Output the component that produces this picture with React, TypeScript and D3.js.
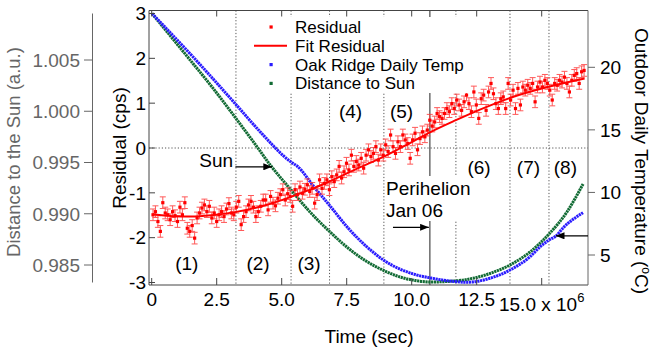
import React from 'react';
import * as d3 from 'd3';

// ---------- data (time in units of 1e6 s) ----------
const residualValues = [
  -1.49, -1.42, -1.64, -1.86, -1.22, -1.45, -1.49, -1.60, -1.42, -1.51,
  -1.64, -1.32, -1.49, -1.22, -1.79, -1.86, -1.73, -2.01, -1.56, -1.45,
  -1.34, -1.27, -1.42, -1.30, -1.56, -1.45, -1.64, -1.49, -1.42, -1.53,
  -1.36, -1.24, -1.45, -1.49, -1.32, -1.19, -1.71, -1.53, -1.42, -1.27,
  -1.19, -1.32, -1.53, -1.42, -1.30, -1.16,
  -1.16, -1.38, -1.08, -1.23, -1.29, -1.12, -1.04, -0.93, -1.16, -1.02,
  -1.08, -1.30, -0.93, -1.04, -0.87, -1.01, -0.92, -0.82, -0.97, -0.90,
  -1.23, -1.04, -0.71, -0.90, -0.79, -0.71, -0.93, -0.64, -0.75, -0.60,
  -0.41, -0.67, -0.53, -0.34, -0.49, -0.16, -0.41, -0.30, -0.38, -0.23,
  -0.45, -0.16, -0.04, -0.19,
  -0.12, 0.03, -0.27, -0.04, -0.16, 0.07, -0.08, 0.29, 0.03, -0.12,
  0.14, 0.03, 0.29, 0.18, 0.10, -0.23, 0.18, 0.33, -0.04, 0.21,
  0.36, 0.25, 0.40, 0.62, 0.49, 0.58, 0.77, 0.70, 0.66, 0.77,
  0.88, 0.81, 0.99, 0.88, 1.07, 0.96, 0.84, 1.03, 1.18, 0.99,
  0.81, 1.25, 0.96, 0.66, 1.10, 1.18, 0.84, 1.25, 1.44, 1.21,
  0.99, 0.88, 1.10, 1.14, 0.88, 1.44, 1.07, 1.29, 0.88, 1.33,
  0.96, 1.36, 1.29, 1.40, 1.33, 1.44, 1.03, 1.36, 1.47, 1.36,
  1.51, 1.44, 1.29, 1.07, 1.44, 1.40, 1.51, 1.47, 1.58, 1.44,
  1.25, 1.51, 1.62, 1.66, 1.44, 1.70, 1.73,
];
const residualTimeStart = 0.05;
const residualTimeEnd = 16.63;
const residualError = 0.13;

const fitTime = [0.05, 0.8, 1.5, 2.3, 3.2, 4.3, 5.36, 6.1, 6.86, 7.9, 8.97, 9.9, 10.74, 11.7, 12.6, 13.8, 15.3, 16.65];
const fitValues = [-1.48, -1.52, -1.53, -1.5, -1.43, -1.29, -1.09, -0.93, -0.74, -0.46, -0.18, 0.1, 0.36, 0.62, 0.85, 1.12, 1.37, 1.55];

const tempTime = [0.01, 1.63, 3.24, 4.17, 5.36, 5.59, 6.28, 6.86, 7.55, 8.24, 8.97, 10.13, 10.74, 11.36, 12.13, 13.01, 13.78, 14.55, 14.93, 15.28, 15.55, 15.82, 16.59];
const tempValues = [24.3, 20.74, 17.03, 14.85, 12.43, 12.11, 10.35, 8.92, 7.16, 5.72, 4.52, 3.44, 3.16, 2.95, 2.82, 3.14, 3.8, 4.86, 5.64, 6.2, 6.52, 7.16, 8.38];

const distTime = [0.01, 1.4, 2.32, 3.2, 3.86, 4.59, 5.36, 6.09, 6.86, 7.55, 8.24, 8.97, 9.55, 10.13, 10.74, 11.36, 12.13, 13.01, 13.78, 14.55, 15.28, 15.97, 16.59];
const distValues = [1.00954, 1.00524, 1.00237, 0.99944, 0.9972, 0.99466, 0.99232, 0.99017, 0.98822, 0.98666, 0.98539, 0.98441, 0.98383, 0.98349, 0.98334, 0.98339, 0.98359, 0.98417, 0.985, 0.98627, 0.98802, 0.99017, 0.9929];

const timeTicks = [0, 2.5, 5, 7.5, 10, 12.5];
const timeTickLabels = ['0', '2.5', '5.0', '7.5', '10.0', '12.5'];
const residualTicks = [-3, -2, -1, 0, 1, 2, 3];
const tempTicks = [5, 10, 15, 20];
const distTicks = [0.985, 0.99, 0.995, 1.0, 1.005];

const dividerTimes = [3.24, 5.36, 6.84, 8.93, 11.7, 13.78, 15.28];
const perihelionTime = 10.7;
const regionLabels = ['(1)', '(2)', '(3)', '(4)', '(5)', '(6)', '(7)', '(8)'];
const regionTimes = [1.35, 4.09, 6.05, 7.65, 9.61, 12.59, 14.49, 15.91];
const regionLevels = [-2.72, -2.72, -2.72, 0.67, 0.67, -0.58, -0.58, -0.58];

const legendLabels = ['Residual', 'Fit Residual', 'Oak Ridge Daily Temp', 'Distance to Sun'];

const RED = '#ff0000';
const BLUE = '#2a1cff';
const GREEN = '#126b34';
const FONT = '"Liberation Sans", Arial, Helvetica, sans-serif';

export default function App() {
  const W = 654, H = 350;
  const left = 149, right = 588, top = 10.5, bottom = 285;
  const x = d3.scaleLinear().domain([0, 15]).range([151.7, 541.7]);
  const yR = d3.scaleLinear().domain([-3, 3]).range([282.5, 13.5]);
  const yT = d3.scaleLinear().domain([5, 20]).range([255, 67.3]);
  const yD = d3.scaleLinear().domain([0.985, 1.005]).range([265, 60]);

  const n = residualValues.length;
  const tScale = d3.scaleLinear().domain([0, n - 1]).range([residualTimeStart, residualTimeEnd]);
  const resPts = residualValues.map((v, i) => ({ t: tScale(i), v }));

  const fitLine = d3.line<number>().x((_, i) => x(fitTime[i])).y((d) => yR(d)).curve(d3.curveMonotoneX)(fitValues) || '';
  const tempLine = d3.line<number>().x((_, i) => x(tempTime[i])).y((d) => yT(d)).curve(d3.curveMonotoneX)(tempValues) || '';
  const distLine = d3.line<number>().x((_, i) => x(distTime[i])).y((d) => yD(d)).curve(d3.curveMonotoneX)(distValues) || '';

  const fs = 19;
  const axisColor = '#444';

  return (
    <svg width={W} height={H} style={{ position: 'absolute', left: 0, top: 0, background: '#fff' }} fontFamily={FONT}>
      <defs>
        <marker id="ah" viewBox="0 0 10 8" refX="10" refY="4" markerWidth="10" markerHeight="7" markerUnits="userSpaceOnUse" orient="auto">
          <path d="M0,0 L10,4 L0,8 Z" fill="#000" />
        </marker>
        <clipPath id="plot"><rect x={left} y={top} width={right - left} height={bottom - top} /></clipPath>
      </defs>

      {/* dotted dividers */}
      {dividerTimes.map((t, i) => (
        <line key={'dv' + i} x1={x(t)} x2={x(t)} y1={top} y2={bottom} stroke="#555" strokeWidth={1} strokeDasharray="1.2,2" />
      ))}
      <line x1={left} x2={right} y1={yR(0)} y2={yR(0)} stroke="#555" strokeWidth={1} strokeDasharray="1.2,2" />
      <line x1={x(perihelionTime)} x2={x(perihelionTime)} y1={top} y2={bottom} stroke="#222" strokeWidth={1} />

      {/* curves */}
      <g clipPath="url(#plot)">
        <path d={distLine} fill="none" stroke={GREEN} strokeWidth={3} strokeDasharray="2.2,0.6" />
        <path d={tempLine} fill="none" stroke={BLUE} strokeWidth={3} strokeDasharray="2.2,0.6" />
      </g>

      {/* residual error bars + markers */}
      <g stroke="#ff3c3c" strokeWidth={1} opacity={0.85}>
        {resPts.map((p, i) => {
          const cx = x(p.t), y1 = yR(p.v + residualError), y2 = yR(p.v - residualError);
          return (
            <g key={'eb' + i}>
              <line x1={cx} x2={cx} y1={y1} y2={y2} />
              <line x1={cx - 3} x2={cx + 3} y1={y1} y2={y1} />
              <line x1={cx - 3} x2={cx + 3} y1={y2} y2={y2} />
            </g>
          );
        })}
      </g>
      <path d={fitLine} fill="none" stroke={RED} strokeWidth={2} />
      {resPts.map((p, i) => (
        <rect key={'rp' + i} x={x(p.t) - 1.6} y={yR(p.v) - 1.6} width={3.2} height={3.2} fill={RED} />
      ))}

      {/* frame */}
      <line x1={left} x2={right} y1={top} y2={top} stroke={axisColor} />
      <line x1={left} x2={right} y1={bottom} y2={bottom} stroke={axisColor} />
      <line x1={left} x2={left} y1={top} y2={bottom} stroke={axisColor} />
      <line x1={right} x2={right} y1={top} y2={bottom} stroke="#666" />

      {/* bottom ticks + top mirror */}
      {[...timeTicks, 15].map((t, i) => (
        <g key={'xt' + i}>
          <line x1={x(t)} x2={x(t)} y1={bottom} y2={bottom - 7} stroke={axisColor} />
          <line x1={x(t)} x2={x(t)} y1={top} y2={top + 6} stroke={axisColor} />
        </g>
      ))}
      {timeTicks.map((t, i) => (
        <text key={'xl' + i} x={x(t)} y={306} fontSize={fs} textAnchor="middle" fill="#000">{timeTickLabels[i]}</text>
      ))}
      <text x={x(15)} y={310.5} fontSize={fs} textAnchor="middle" fill="#000">
        15.0 x 10<tspan fontSize={13} dy={-9}>6</tspan>
      </text>
      <text x={369} y={343} fontSize={fs} textAnchor="middle" fill="#000">Time (sec)</text>

      {/* left residual axis */}
      {residualTicks.map((v, i) => (
        <g key={'yr' + i}>
          <line x1={left} x2={left + 6} y1={yR(v)} y2={yR(v)} stroke={axisColor} />
          <text x={146} y={yR(v) + 6.8} fontSize={fs} textAnchor="end" fill="#000">{v}</text>
        </g>
      ))}
      <text transform={`translate(126,148) rotate(-90)`} fontSize={fs} textAnchor="middle" fill="#000">Residual (cps)</text>

      {/* right temperature axis */}
      {tempTicks.map((v, i) => (
        <g key={'yt' + i}>
          <line x1={right} x2={right + 7} y1={yT(v)} y2={yT(v)} stroke="#666" />
          <text x={600} y={yT(v) + 6.8} fontSize={fs} textAnchor="start" fill="#000">{v}</text>
        </g>
      ))}
      <text transform={`translate(635,161) rotate(90)`} fontSize={fs} textAnchor="middle" fill="#000">
        Outdoor Daily Temperature (<tspan fontSize={12} dy={-7}>o</tspan><tspan dy={7}>C)</tspan>
      </text>

      {/* far-left distance axis */}
      <line x1={92.5} x2={92.5} y1={yR(3)} y2={yR(-3)} stroke="#666" />
      {distTicks.map((v, i) => (
        <g key={'yd' + i}>
          <line x1={84} x2={92.5} y1={yD(v)} y2={yD(v)} stroke="#666" />
          <text x={80} y={yD(v) + 6.8} fontSize={fs} textAnchor="end" fill="#666">{v.toFixed(3)}</text>
        </g>
      ))}
      <text transform={`translate(20,152) rotate(-90)`} fontSize={18.5} textAnchor="middle" fill="#666">Distance to the Sun (a.u.)</text>

      {/* region labels */}
      {regionLabels.map((l, i) => (
        <text key={'rl' + i} x={x(regionTimes[i])} y={yR(regionLevels[i])} fontSize={fs} textAnchor="middle" fill="#000">{l}</text>
      ))}

      {/* Sun annotation */}
      <text x={x(3.13)} y={yR(-0.42)} fontSize={fs} textAnchor="end" fill="#000">Sun</text>
      <line x1={x(3.22)} x2={x(4.63)} y1={yR(-0.42)} y2={yR(-0.42)} stroke="#000" strokeWidth={1.3} markerEnd="url(#ah)" />

      {/* Perihelion annotation */}
      <rect x={385.5} y={176} width={85} height={45} fill="#fff" />
      <text x={x(9.01)} y={yR(-1.05)} fontSize={fs} fill="#000">Perihelion</text>
      <text x={x(9.01)} y={yR(-1.53)} fontSize={fs} fill="#000">Jan 06</text>
      <line x1={x(9.28)} x2={x(10.66)} y1={yR(-1.77)} y2={yR(-1.77)} stroke="#000" strokeWidth={1.3} markerEnd="url(#ah)" />

      {/* right arrow */}
      <line x1={right} x2={x(15.54)} y1={yR(-1.96)} y2={yR(-1.96)} stroke="#000" strokeWidth={1.3} markerEnd="url(#ah)" />

      {/* legend */}
      <rect x={246} y={17} width={224} height={76} fill="#fff" />
      {legendLabels.map((l, i) => {
        const ly = 27 + i * 18.8;
        return (
          <g key={'lg' + i}>
            {i === 0 && <rect x={269.5} y={ly - 1.6} width={3.2} height={3.2} fill={RED} />}
            {i === 1 && <line x1={254} x2={287} y1={ly} y2={ly} stroke={RED} strokeWidth={2} />}
            {i === 2 && <rect x={269.5} y={ly - 1.6} width={3.2} height={3.2} fill={BLUE} />}
            {i === 3 && <rect x={269.5} y={ly - 1.6} width={3.2} height={3.2} fill={GREEN} />}
            <text x={295} y={ly + 6} fontSize={17} fill="#000">{l}</text>
          </g>
        );
      })}
    </svg>
  );
}
